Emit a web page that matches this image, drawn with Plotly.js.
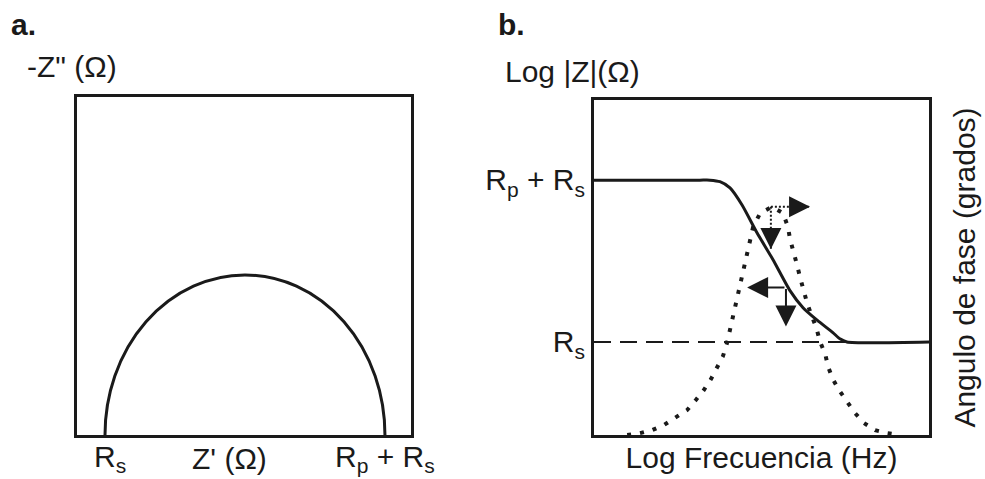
<!DOCTYPE html>
<html>
<head>
<meta charset="utf-8">
<script src="https://cdn.plot.ly/plotly-3.0.1.min.js"></script>
<style>
  html, body { margin: 0; padding: 0; background: #fff; }
  #chart { width: 985px; height: 479px; }
</style>
</head>
<body>
<div id="chart"></div>
<script>
// ---- Panel a: Nyquist plot of an Rs + (Rp || C) cell ----
const Rs = 1;    // solution resistance
const Rp = 10;   // polarisation resistance
const nyquistTickVals = [Rs, Rs + Rp];
const nyquistTickText = ['R<sub>s</sub>', 'R<sub>p</sub> + R<sub>s</sub>'];

// ---- Panel b: Bode plot (x = log frequency) ----
// impedance modulus, log10 |Z|
const magLogF = [0, 3.16, 3.46, 3.76, 4.06, 4.42, 4.87, 5.34, 5.85, 6.24, 6.66, 7.13, 7.34, 7.55, 10];
const magLogZ = [1.04, 1.04, 1.04, 1.03, 0.99, 0.88, 0.70, 0.53, 0.33, 0.22, 0.14, 0.06, 0.02, 0, 0];
// phase angle, degrees
const phaseLogF = [0.99, 1.37, 1.73, 2.09, 2.45, 2.78, 3.04, 3.28, 3.49, 3.67,
                   3.85, 3.97, 4.06, 4.15, 4.24, 4.33, 4.42, 4.51, 4.60, 4.69,
                   4.75, 4.96, 5.31, 5.64, 5.79, 5.85, 5.94, 6.06, 6.15, 6.24,
                   6.36, 6.51, 6.63, 6.75, 6.90, 6.99, 7.13, 7.31, 7.55, 7.79,
                   8.06, 8.39, 8.75, 9.13];
const phaseDeg = [0, 0.5, 1.3, 2.7, 4.8, 6.7, 9.4, 12.1, 15.0, 18.0,
                  21.2, 24.7, 28.2, 31.7, 35.2, 39.0, 42.4, 45.9, 49.4, 52.9,
                  55.9, 59.6, 61.3, 59.6, 55.9, 52.7, 49.2, 45.7, 42.4, 39.0,
                  35.5, 31.7, 29.0, 25.0, 21.8, 18.3, 15.0, 12.1, 8.9, 5.9,
                  3.2, 1.3, 0.5, 0];
const bodeTickVals = [Math.log10(Rs), Math.log10(Rs + Rp)];
const bodeTickText = ['R<sub>s</sub>', 'R<sub>p</sub> + R<sub>s</sub>'];
const rsLineLogF = [0, 7.55];

// slope markers on the modulus curve (log f, log|Z|)
const magCorner = [5.73, 0.35];
const magLeftTip = [4.57, 0.35];
const magDownTip = [5.73, 0.10];
// markers at the phase maximum (log f, degrees)
const phaseCorner = [5.28, 61.3];
const phaseRightTip = [6.45, 61.3];
const phaseDownTip = [5.28, 50.0];

const FONT = 'Liberation Sans, Arial, Helvetica, sans-serif';
const INK = '#1a1a1a';
const TXT = { family: FONT, size: 30, color: INK };

const traces = [
  // Rs reference level
  { x: rsLineLogF, y: [bodeTickVals[0], bodeTickVals[0]], xaxis: 'x2', yaxis: 'y2',
    mode: 'lines', line: { color: INK, width: 2, dash: '17px,9px' }, hoverinfo: 'skip' },
  // |Z|
  { x: magLogF, y: magLogZ, xaxis: 'x2', yaxis: 'y2', mode: 'lines',
    line: { color: INK, width: 3, shape: 'spline', smoothing: 0.6 }, hoverinfo: 'skip' },
  // phase
  { x: phaseLogF, y: phaseDeg, xaxis: 'x2', yaxis: 'y3', mode: 'lines',
    line: { color: INK, width: 4, dash: '4px,9px' }, hoverinfo: 'skip' },
  // dotted guides from the phase maximum
  { x: [phaseCorner[0], phaseRightTip[0]], y: [phaseCorner[1], phaseRightTip[1]],
    xaxis: 'x2', yaxis: 'y3', mode: 'lines',
    line: { color: INK, width: 2, dash: '2px,2px' }, hoverinfo: 'skip' },
  { x: [phaseCorner[0], phaseDownTip[0]], y: [phaseCorner[1], phaseDownTip[1]],
    xaxis: 'x2', yaxis: 'y3', mode: 'lines',
    line: { color: INK, width: 2, dash: '2px,2px' }, hoverinfo: 'skip' }
];

const arrowBase = { text: '', showarrow: true, arrowhead: 2, arrowsize: 2.1,
                    arrowwidth: 2, arrowcolor: INK, standoff: 0 };

const annotations = [
  { ...arrowBase, xref: 'x2', yref: 'y2', axref: 'x2', ayref: 'y2',
    x: magLeftTip[0], y: magLeftTip[1], ax: magCorner[0], ay: magCorner[1] },
  { ...arrowBase, xref: 'x2', yref: 'y2', axref: 'x2', ayref: 'y2',
    x: magDownTip[0], y: magDownTip[1], ax: magCorner[0], ay: magCorner[1] },
  { ...arrowBase, xref: 'x2', yref: 'y3', x: phaseRightTip[0], y: phaseRightTip[1], ax: -20, ay: 0 },
  { ...arrowBase, xref: 'x2', yref: 'y3', x: phaseDownTip[0], y: phaseDownTip[1], ax: 0, ay: -20 },

  { text: '<b>a.</b>', xref: 'paper', yref: 'paper', x: 9 / 985, y: 1 - 24 / 479,
    xanchor: 'left', yanchor: 'middle', showarrow: false, font: TXT },
  { text: '<b>b.</b>', xref: 'paper', yref: 'paper', x: 496 / 985, y: 1 - 24 / 479,
    xanchor: 'left', yanchor: 'middle', showarrow: false, font: TXT },
  { text: '-Z" (Ω)', xref: 'paper', yref: 'paper', x: 25 / 985, y: 1 - 66 / 479,
    xanchor: 'left', yanchor: 'middle', showarrow: false, font: TXT },
  { text: 'Log |Z|(Ω)', xref: 'paper', yref: 'paper', x: 503 / 985, y: 1 - 71 / 479,
    xanchor: 'left', yanchor: 'middle', showarrow: false, font: TXT },
  { text: "Z' (Ω)", xref: 'paper', yref: 'paper', x: 229 / 985, y: 1 - 458 / 479,
    xanchor: 'center', yanchor: 'middle', showarrow: false, font: TXT }
];

// Nyquist x labels under the box, placed at their resistance values
nyquistTickVals.forEach((v, i) => {
  annotations.push({ text: nyquistTickText[i], xref: 'x', yref: 'paper', x: v,
    y: 1 - 458 / 479, xanchor: 'center', yanchor: 'middle', showarrow: false,
    xshift: i === 0 ? 5 : 0, font: TXT });
});

const boxAxis = { showline: true, mirror: true, linewidth: 3, linecolor: INK,
                  showgrid: false, zeroline: false, ticks: '', fixedrange: true };

const layout = {
  width: 985, height: 479,
  margin: { l: 0, r: 0, t: 0, b: 0 },
  paper_bgcolor: '#fff', plot_bgcolor: '#fff',
  showlegend: false,
  font: TXT,
  xaxis: { ...boxAxis, domain: [77 / 985, 411 / 985], range: [0, 11.93],
           showticklabels: false, anchor: 'y' },
  yaxis: { ...boxAxis, domain: [1 - 435 / 479, 1 - 97 / 479], range: [0, 10.56],
           showticklabels: false, anchor: 'x' },
  xaxis2: { ...boxAxis, domain: [594 / 985, 929 / 985], range: [0, 10],
            showticklabels: false, anchor: 'y2',
            title: { text: 'Log Frecuencia (Hz)', font: TXT, standoff: 10 } },
  yaxis2: { ...boxAxis, domain: [1 - 435 / 479, 1 - 100 / 479], range: [-0.598, 1.555],
            tickvals: bodeTickVals, ticktext: bodeTickText, tickfont: TXT, anchor: 'x2' },
  yaxis3: { showline: false, showgrid: false, zeroline: false, ticks: '',
            overlaying: 'y2', side: 'right', anchor: 'x2', range: [0, 90],
            showticklabels: false, fixedrange: true,
            title: { text: 'Angulo de fase (grados)', font: TXT, standoff: 24 } },
  shapes: [
    // Nyquist semicircle: centre at Rs + Rp/2, radius Rp/2; lower half falls outside the plot
    { type: 'circle', xref: 'x', yref: 'y', x0: Rs, x1: Rs + Rp, y0: -Rp / 2, y1: Rp / 2,
      line: { color: INK, width: 3 }, fillcolor: 'rgba(0,0,0,0)' }
  ],
  annotations: annotations
};

Plotly.newPlot('chart', traces, layout, { staticPlot: true, displayModeBar: false });
</script>
</body>
</html>
